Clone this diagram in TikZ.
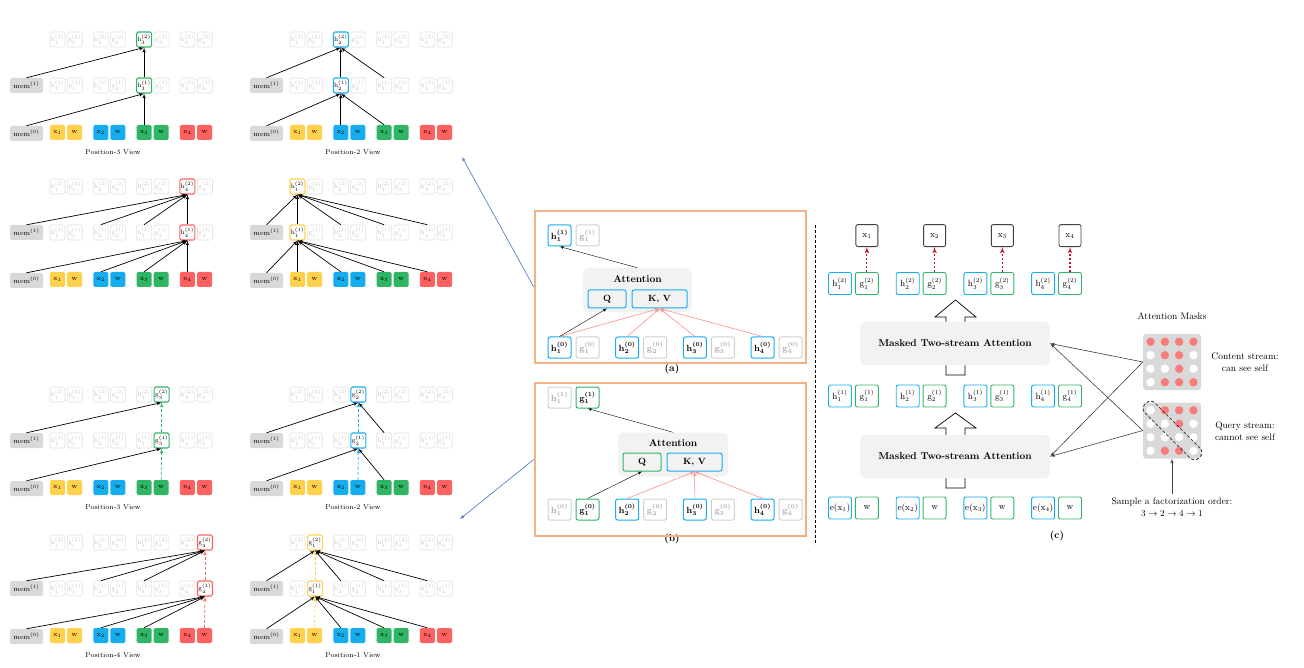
\documentclass[tikz,border=0pt]{standalone}
\usepackage{amsmath}
\usepackage{amssymb}
\usepackage{tikz}
\usetikzlibrary{shapes,arrows,positioning}

\definecolor{vyellow}{HTML}{FFD24D}
\definecolor{vblue}{HTML}{14AEEF}
\definecolor{vgreen}{HTML}{2FB665}
\definecolor{vred}{HTML}{FF6161}
\definecolor{fadeline}{HTML}{E0E0E0}
\definecolor{fadetext}{HTML}{C2C2C2}
\definecolor{offline}{HTML}{CFCFCF}
\definecolor{offtext}{HTML}{A8A8A8}
\definecolor{memgray}{HTML}{D9D9D9}
\definecolor{attgray}{HTML}{F2F2F2}
\definecolor{panelorange}{HTML}{F4B183}
\definecolor{linkblue}{HTML}{4472C4}
\definecolor{kvred}{HTML}{FF8C8C}
\definecolor{outred}{HTML}{C8102E}
\definecolor{maskred}{HTML}{F87C7C}
\colorlet{dot0}{white}
\colorlet{dot1}{maskred}

\newcommand{\viewgrid}[1]{%
\node[membox] (#1-mem1) at (26.5,85.5) {mem$^{(1)}$};
\node[membox] (#1-mem0) at (26.5,133.5) {mem$^{(0)}$};
\foreach \i/\col in {1/vyellow,2/vblue,3/vgreen,4/vred}{
  \node[fadebox,hl-h\i/.try] (#1-h\i-2) at ({57.5+43.3*(\i-1)},39.5) {h$_\i^{(2)}$};
  \node[fadebox,hl-g\i/.try,right=1.7pt of #1-h\i-2] (#1-g\i-2) {g$_\i^{(2)}$};
  \node[fadebox,hl-h\i/.try] (#1-h\i-1) at ({57.5+43.3*(\i-1)},85.5) {h$_\i^{(1)}$};
  \node[fadebox,hl-g\i/.try,right=1.7pt of #1-h\i-1] (#1-g\i-1) {g$_\i^{(1)}$};
  \node[tokbox,fill=\col] (#1-x\i) at ({57.5+43.3*(\i-1)},132.5) {x$_\i$};
  \node[tokbox,fill=\col,right=1.7pt of #1-x\i] (#1-w\i) {w};
}}
\newcommand{\feedinto}[3]{\foreach \s in {#3} \path[draw,feed] (#1-\s.north) -- (#1-#2.south);}

\begin{document}
\begin{tikzpicture}[x=1pt,y=-1pt,>=latex']
\tikzstyle{fadebox}=[draw=fadeline, text=fadetext, rounded corners=1.5pt, minimum width=15pt, minimum height=15pt, inner sep=0pt, line width=0.6pt, font=\fontsize{6.5}{6.5}\selectfont]
\tikzstyle{hilite}=[draw=#1, text=black, line width=1.1pt]
\tikzstyle{tokbox}=[rounded corners=1.5pt, minimum width=15pt, minimum height=15pt, inner sep=0pt, font=\fontsize{7}{7}\selectfont]
\tikzstyle{membox}=[fill=memgray, rounded corners=2pt, minimum width=33pt, minimum height=15pt, inner sep=0pt, font=\fontsize{7}{7}\selectfont]
\tikzstyle{viewcap}=[font=\fontsize{7}{7}\selectfont]
\tikzstyle{feed}=[->, line width=0.7pt]
\tikzstyle{peek}=[feed, dash pattern=on 3pt off 2pt]
\tikzstyle{panel}=[draw=panelorange, line width=2.5pt, minimum width=271pt]
\tikzstyle{cbox}=[draw=vblue, line width=1pt, rounded corners=2pt, minimum width=23pt, minimum height=21pt, inner sep=0pt, font=\fontsize{9}{9}\selectfont\bfseries\boldmath]
\tikzstyle{qbox}=[cbox, draw=vgreen]
\tikzstyle{offbox}=[cbox, draw=offline, text=offtext]
\tikzstyle{attbox}=[fill=attgray, rounded corners=5pt, minimum height=44pt]
\tikzstyle{atttitle}=[font=\fontsize{10}{10}\selectfont\bfseries]
\tikzstyle{qkv}=[cbox, minimum height=18pt, font=\fontsize{9}{9}\selectfont\bfseries]
\tikzstyle{kvline}=[->, draw=kvred, line width=0.6pt]
\tikzstyle{hbox}=[draw=vblue, line width=0.9pt, rounded corners=2pt, minimum width=23pt, minimum height=22pt, inner sep=0pt, font=\fontsize{9}{9}\selectfont]
\tikzstyle{gbox}=[hbox, draw=vgreen]
\tikzstyle{outbox}=[hbox, draw=black!75, minimum width=22pt]
\tikzstyle{mtsa}=[fill=attgray, rounded corners=6pt, minimum width=190pt, minimum height=43pt, font=\fontsize{10}{10}\selectfont\bfseries]
\tikzstyle{blockarrow}=[fill=white, draw=black, line width=0.7pt]
\tikzstyle{outlink}=[->, draw=outred, line width=1.1pt, dash pattern=on 2.5pt off 1.5pt]
\tikzstyle{maskbox}=[fill=memgray, rounded corners=3pt, minimum width=58pt, minimum height=56pt]
\tikzstyle{masklink}=[->, draw=black!75, line width=0.6pt]
\tikzstyle{note}=[align=center, font=\fontsize{9.5}{12}\selectfont]
\tikzstyle{link}=[->, draw=linkblue, line width=0.6pt]

\useasboundingbox (0,0) rectangle (1304,668);

\begin{scope}[hl-h3/.style={hilite=vgreen}]
\viewgrid{A}
\node[viewcap] (A-cap) at (113,152) {Position-3 View};
\end{scope}
\begin{scope}[shift={(240,0)}, hl-h2/.style={hilite=vblue}]
\viewgrid{B}
\node[viewcap] (B-cap) at (113,152) {Position-2 View};
\end{scope}
\begin{scope}[shift={(0,147)}, hl-h4/.style={hilite=vred}]
\viewgrid{C}
\end{scope}
\begin{scope}[shift={(240,147)}, hl-h1/.style={hilite=vyellow}]
\viewgrid{D}
\end{scope}
\begin{scope}[shift={(0,355)}, hl-g3/.style={hilite=vgreen}]
\viewgrid{E}
\node[viewcap] (E-cap) at (113,152) {Position-3 View};
\end{scope}
\begin{scope}[shift={(240,355)}, hl-g2/.style={hilite=vblue}]
\viewgrid{F}
\node[viewcap] (F-cap) at (113,152) {Position-2 View};
\end{scope}
\begin{scope}[shift={(0,503)}, hl-g4/.style={hilite=vred}]
\viewgrid{G}
\node[viewcap] (G-cap) at (113,152) {Position-4 View};
\end{scope}
\begin{scope}[shift={(240,503)}, hl-g1/.style={hilite=vyellow}]
\viewgrid{H}
\node[viewcap] (H-cap) at (113,152) {Position-1 View};
\end{scope}

\feedinto{A}{h3-2}{mem1,h3-1}
\feedinto{A}{h3-1}{mem0,x3}
\feedinto{B}{h2-2}{mem1,h2-1,h3-1}
\feedinto{B}{h2-1}{mem0,x2,x3}
\feedinto{C}{h4-2}{mem1,h2-1,h3-1,h4-1}
\feedinto{C}{h4-1}{mem0,x2,x3,x4}
\feedinto{D}{h1-2}{mem1,h1-1,h2-1,h3-1,h4-1}
\feedinto{D}{h1-1}{mem0,x1,x2,x3,x4}
\feedinto{E}{g3-2}{mem1}
\feedinto{E}{g3-1}{mem0}
\path[draw,peek,vgreen] (E-w3.north) -- (E-g3-1.south);
\path[draw,peek,vgreen] (E-g3-1.north) -- (E-g3-2.south);
\feedinto{F}{g2-2}{mem1,h3-1}
\feedinto{F}{g2-1}{mem0,x3}
\path[draw,peek,vblue] (F-w2.north) -- (F-g2-1.south);
\path[draw,peek,vblue] (F-g2-1.north) -- (F-g2-2.south);
\feedinto{G}{g4-2}{mem1,h2-1,h3-1}
\feedinto{G}{g4-1}{mem0,x2,x3}
\path[draw,peek,vred] (G-w4.north) -- (G-g4-1.south);
\path[draw,peek,vred] (G-g4-1.north) -- (G-g4-2.south);
\feedinto{H}{g1-2}{mem1,h2-1,h3-1,h4-1}
\feedinto{H}{g1-1}{mem0,x2,x3,x4}
\path[draw,peek,vyellow] (H-w1.north) -- (H-g1-1.south);
\path[draw,peek,vyellow] (H-g1-1.north) -- (H-g1-2.south);

\node[atttitle] (a-label) at (672,369) {(a)};
\node[atttitle] (b-label) at (672,539) {(b)};
\node[panel, minimum height=152pt] (pa) at (670.5,287) {};
\node[panel, minimum height=153pt] (pb) at (670.5,459.5) {};

\node[cbox] (a-h1-1) at (559.5,235.5) {h$_1^{(1)}$};
\node[offbox, right=4pt of a-h1-1] (a-g1-1) {g$_1^{(1)}$};
\node[attbox, minimum width=109pt] (a-att) at (637.5,290) {};
\path (a-att.north)+(0,11) node (a-title) [atttitle] {Attention};
\node[qkv, minimum width=38pt] (a-q) at (607,299) {Q};
\node[qkv, minimum width=55pt] (a-kv) at (659.5,299) {K, V};
\foreach \i in {1,...,4}{
  \node[cbox] (a-h\i-0) at ({559.5+67.7*(\i-1)},347.5) {h$_\i^{(0)}$};
  \node[offbox, right=4pt of a-h\i-0] (a-g\i-0) {g$_\i^{(0)}$};
  \path[draw,kvline] (a-h\i-0.north) -- (a-kv.south);
}
\path[draw,->] (a-h1-0.north) -- (a-q.south);
\path[draw,->] (a-att.north) -- (a-h1-1.south);

\node[offbox] (b-h1-1) at (559.5,397.5) {h$_1^{(1)}$};
\node[qbox, right=4pt of b-h1-1] (b-g1-1) {g$_1^{(1)}$};
\node[attbox, minimum width=110pt] (b-att) at (673,454.5) {};
\path (b-att.north)+(0,11) node (b-title) [atttitle] {Attention};
\node[qkv, draw=vgreen, minimum width=38pt] (b-q) at (642,462) {Q};
\node[qkv, minimum width=55pt] (b-kv) at (694.5,462) {K, V};
\node[offbox] (b-h1-0) at (559.5,509.5) {h$_1^{(0)}$};
\node[qbox, right=4pt of b-h1-0] (b-g1-0) {g$_1^{(0)}$};
\foreach \i in {2,3,4}{
  \node[cbox] (b-h\i-0) at ({559.5+67.7*(\i-1)},509.5) {h$_\i^{(0)}$};
  \node[offbox, right=4pt of b-h\i-0] (b-g\i-0) {g$_\i^{(0)}$};
  \path[draw,kvline] (b-h\i-0.north) -- (b-kv.south);
}
\path[draw,->] (b-g1-0.north) -- (b-q.south);
\path[draw,->] (b-att.north) -- (b-g1-1.south);

\coordinate (up-end) at (462,157);
\coordinate (down-end) at (460,519);
\path[draw,link] (pa.west) -- (up-end);
\path[draw,link] (pb.west) -- (down-end);

\draw[line width=0.8pt, densely dashed] (815,225) -- (815,545);

\path[draw,blockarrow] (946,375) -- (946,317) -- (935,317) -- (955.5,300) -- (976,317) -- (965,317) -- (965,375) -- cycle;
\path[draw,blockarrow] (946,488) -- (946,428) -- (935,428) -- (955.5,413) -- (976,428) -- (965,428) -- (965,488) -- cycle;
\node[mtsa] (c-att2) at (955,343.5) {Masked Two-stream Attention};
\node[mtsa] (c-att1) at (955,456.5) {Masked Two-stream Attention};
\foreach \i in {1,...,4}{
  \node[hbox] (c-h\i-2) at ({840+67.7*(\i-1)},283.5) {h$_\i^{(2)}$};
  \node[gbox, right=3pt of c-h\i-2] (c-g\i-2) {g$_\i^{(2)}$};
  \node[outbox, above=25pt of c-g\i-2] (c-x\i) {x$_\i$};
  \path[draw,outlink] (c-g\i-2.north) -- (c-x\i.south);
  \node[hbox] (c-h\i-1) at ({840+67.7*(\i-1)},396) {h$_\i^{(1)}$};
  \node[gbox, right=3pt of c-h\i-1] (c-g\i-1) {g$_\i^{(1)}$};
  \node[hbox] (c-e\i) at ({840+67.7*(\i-1)},508) {e(x$_\i$)};
  \node[gbox, right=3pt of c-e\i] (c-w\i) {w};
}
\node[atttitle] (c-label) at (1057,536) {(c)};

\node[note] (mask-title) at (1172,316) {Attention Masks};
\node[maskbox] (cmask) at (1172,362) {};
\node[maskbox] (qmask) at (1172,430.5) {};
\foreach \r/\row in {1/{1,1,1,1},2/{0,1,1,0},3/{0,0,1,0},4/{0,1,1,1}}
  \foreach \v [count=\k] in \row
    \fill[dot\v] ({1172+14.3*(\k-2.5)},{362+13.5*(\r-2.5)}) circle (4.2);
\foreach \r/\row in {1/{0,1,1,1},2/{0,0,1,0},3/{0,0,0,0},4/{0,1,1,0}}
  \foreach \v [count=\k] in \row
    \fill[dot\v] ({1172+14.3*(\k-2.5)},{430.5+13.5*(\r-2.5)}) circle (4.2);
\node[draw=black!80, densely dashed, line width=0.8pt, rounded corners=6pt, rotate=-45, minimum width=76pt, minimum height=14pt] (qdiag) at (1172.5,430.5) {};
\node[note] (ctext) at (1245,362) {Content stream:\\can see self};
\node[note] (qtext) at (1245,431) {Query stream:\\cannot see self};
\node[note] (order) at (1172,507) {Sample a factorization order:\\$3\rightarrow2\rightarrow4\rightarrow1$};
\path[draw,masklink] (order.north) -- (qmask.south);
\foreach \m in {cmask,qmask}
  \foreach \t in {c-att1,c-att2}
    \path[draw,masklink] (\m.west) -- (\t.east);
\end{tikzpicture}
\end{document}
